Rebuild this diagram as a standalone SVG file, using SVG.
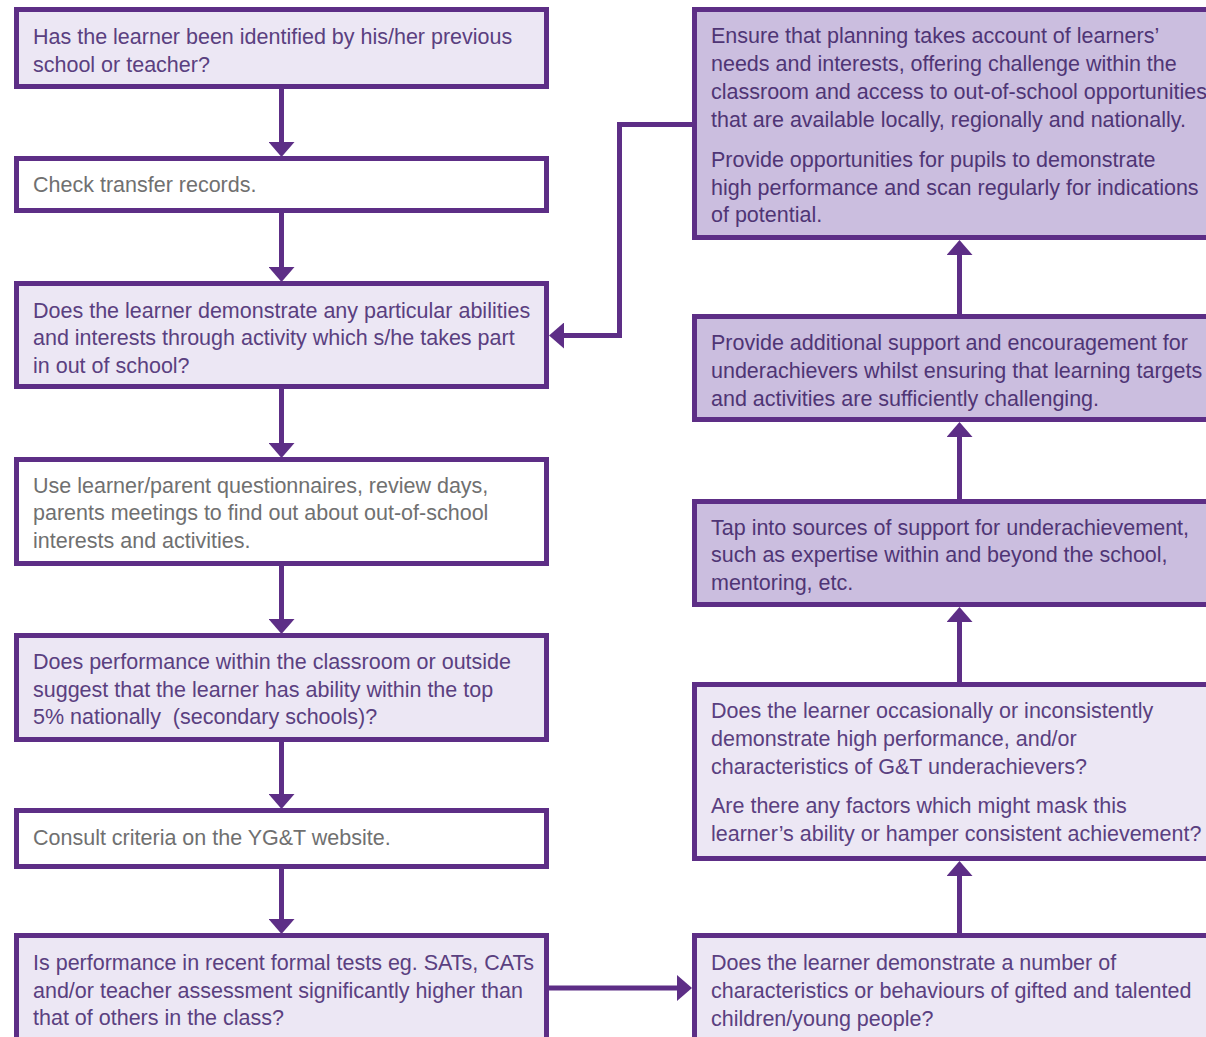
<svg xmlns="http://www.w3.org/2000/svg" width="1206" height="1037" viewBox="0 0 1206 1037">
<style>
.box{stroke:#5d2e86;stroke-width:5;}
.lt{fill:#ece7f4;}
.wh{fill:#ffffff;}
.dk{fill:#cbbedf;}
text{font-family:"Liberation Sans",Arial,sans-serif;font-size:21.5px;}
.tp{fill:#5a4080;}
.tg{fill:#707070;}
.td{fill:#4f3575;}
.con{fill:none;stroke:#5d2e86;stroke-width:5;stroke-linejoin:miter;}
</style>
<defs>
<marker id="ah" markerUnits="userSpaceOnUse" markerWidth="16" markerHeight="26" refX="0" refY="13" orient="auto" viewBox="0 0 16 26">
<path d="M0,0 L15,13 L0,26 Z" fill="#5d2e86"/>
</marker>
</defs>
<rect width="1206" height="1037" fill="#ffffff"/>

<g id="connectors">
<line class="con" x1="281.5" y1="89" x2="281.5" y2="142" marker-end="url(#ah)"/>
<line class="con" x1="281.5" y1="213" x2="281.5" y2="267" marker-end="url(#ah)"/>
<line class="con" x1="281.5" y1="389" x2="281.5" y2="443" marker-end="url(#ah)"/>
<line class="con" x1="281.5" y1="566" x2="281.5" y2="619" marker-end="url(#ah)"/>
<line class="con" x1="281.5" y1="742" x2="281.5" y2="794" marker-end="url(#ah)"/>
<line class="con" x1="281.5" y1="869" x2="281.5" y2="919" marker-end="url(#ah)"/>
<line class="con" x1="549" y1="988" x2="677" y2="988" marker-end="url(#ah)"/>
<line class="con" x1="959.5" y1="933" x2="959.5" y2="876" marker-end="url(#ah)"/>
<line class="con" x1="959.5" y1="682" x2="959.5" y2="622" marker-end="url(#ah)"/>
<line class="con" x1="959.5" y1="499" x2="959.5" y2="437" marker-end="url(#ah)"/>
<line class="con" x1="959.5" y1="314" x2="959.5" y2="255" marker-end="url(#ah)"/>
<path class="con" d="M692,124.5 H619.5 V335.5 H564" marker-end="url(#ah)"/>
</g>

<g id="n1">
<rect class="box lt" x="16.5" y="9.5" width="530" height="77"/>
<text class="tp" x="33" y="44">Has the learner been identified by his/her previous</text>
<text class="tp" x="33" y="72">school or teacher?</text>
</g>
<g id="n2">
<rect class="box wh" x="16.5" y="158.5" width="530" height="52"/>
<text class="tg" x="33" y="192">Check transfer records.</text>
</g>
<g id="n3">
<rect class="box lt" x="16.5" y="283.5" width="530" height="103"/>
<text class="tp" x="33" y="318">Does the learner demonstrate any particular abilities</text>
<text class="tp" x="33" y="345">and interests through activity which s/he takes part</text>
<text class="tp" x="33" y="373">in out of school?</text>
</g>
<g id="n4">
<rect class="box wh" x="16.5" y="459.5" width="530" height="104"/>
<text class="tg" x="33" y="493">Use learner/parent questionnaires, review days,</text>
<text class="tg" x="33" y="520">parents meetings to find out about out-of-school</text>
<text class="tg" x="33" y="548">interests and activities.</text>
</g>
<g id="n5">
<rect class="box lt" x="16.5" y="635.5" width="530" height="104"/>
<text class="tp" x="33" y="669">Does performance within the classroom or outside</text>
<text class="tp" x="33" y="697">suggest that the learner has ability within the top</text>
<text class="tp" x="33" y="724" xml:space="preserve">5% nationally  (secondary schools)?</text>
</g>
<g id="n6">
<rect class="box wh" x="16.5" y="810.5" width="530" height="56"/>
<text class="tg" x="33" y="845">Consult criteria on the YG&amp;T website.</text>
</g>
<g id="n7">
<rect class="box lt" x="16.5" y="935.5" width="530" height="120"/>
<text class="tp" x="33" y="970">Is performance in recent formal tests eg. SATs, CATs</text>
<text class="tp" x="33" y="998">and/or teacher assessment significantly higher than</text>
<text class="tp" x="33" y="1025">that of others in the class?</text>
</g>

<g id="r1">
<rect class="box dk" x="694.5" y="9.5" width="530" height="228"/>
<text class="td" x="711" y="43">Ensure that planning takes account of learners’</text>
<text class="td" x="711" y="71">needs and interests, offering challenge within the</text>
<text class="td" x="711" y="99">classroom and access to out-of-school opportunities</text>
<text class="td" x="711" y="127">that are available locally, regionally and nationally.</text>
<text class="td" x="711" y="167">Provide opportunities for pupils to demonstrate</text>
<text class="td" x="711" y="195">high performance and scan regularly for indications</text>
<text class="td" x="711" y="222">of potential.</text>
</g>
<g id="r2">
<rect class="box dk" x="694.5" y="316.5" width="530" height="103"/>
<text class="td" x="711" y="350">Provide additional support and encouragement for</text>
<text class="td" x="711" y="378">underachievers whilst ensuring that learning targets</text>
<text class="td" x="711" y="406">and activities are sufficiently challenging.</text>
</g>
<g id="r3">
<rect class="box dk" x="694.5" y="501.5" width="530" height="103"/>
<text class="td" x="711" y="535">Tap into sources of support for underachievement,</text>
<text class="td" x="711" y="562">such as expertise within and beyond the school,</text>
<text class="td" x="711" y="590">mentoring, etc.</text>
</g>
<g id="r4">
<rect class="box lt" x="694.5" y="684.5" width="530" height="174"/>
<text class="tp" x="711" y="718">Does the learner occasionally or inconsistently</text>
<text class="tp" x="711" y="746">demonstrate high performance, and/or</text>
<text class="tp" x="711" y="774">characteristics of G&amp;T underachievers?</text>
<text class="tp" x="711" y="813">Are there any factors which might mask this</text>
<text class="tp" x="711" y="841">learner’s ability or hamper consistent achievement?</text>
</g>
<g id="r5">
<rect class="box lt" x="694.5" y="935.5" width="530" height="120"/>
<text class="tp" x="711" y="970">Does the learner demonstrate a number of</text>
<text class="tp" x="711" y="998">characteristics or behaviours of gifted and talented</text>
<text class="tp" x="711" y="1026">children/young people?</text>
</g>
</svg>
